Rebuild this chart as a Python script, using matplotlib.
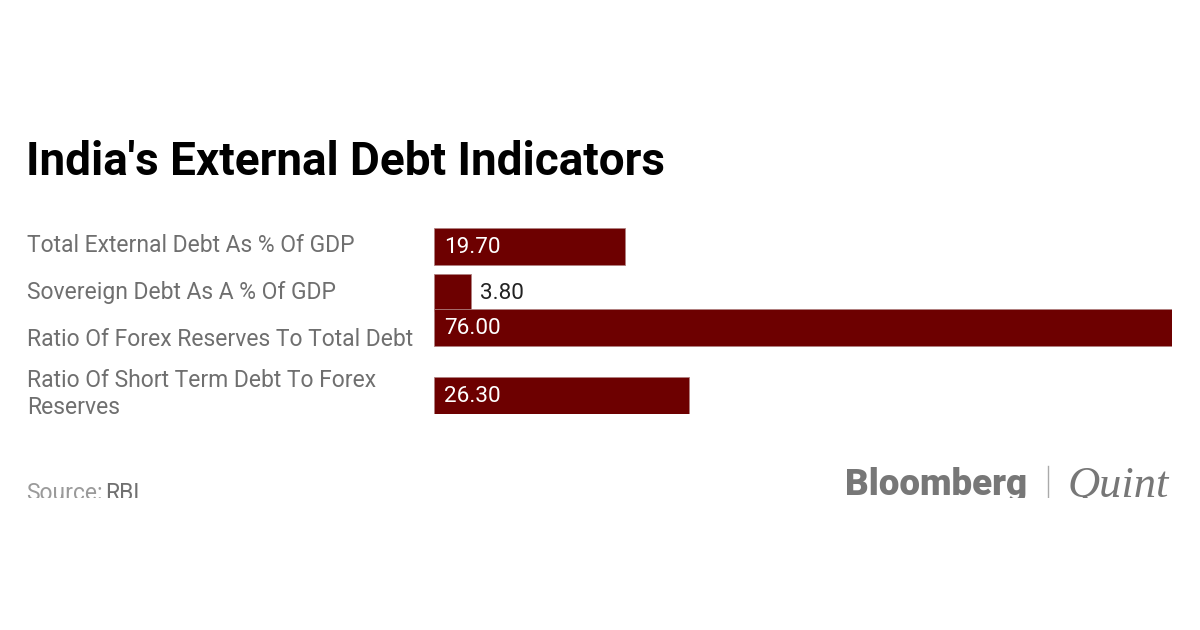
import matplotlib
matplotlib.use('Agg')
import matplotlib.pyplot as plt
from matplotlib.patches import Rectangle

categories = ['Total External Debt As % Of GDP',
              'Sovereign Debt As A % Of GDP',
              'Ratio Of Forex Reserves To Total Debt',
              'Ratio Of Short Term Debt To Forex\nReserves']
values = [19.70, 3.80, 76.00, 26.30]
value_labels = ['19.70', '3.80', '76.00', '26.30']

# layout: bar slots (in bar heights), label rows in pixels
slots = [0, 1.24, 2.19, 4.04]
label_rows = [246, 293, 339, 394]

W, H = 1200, 630
bar_color = '#6d0000'
label_color = '#6f6f6f'

plt.rcParams['font.family'] = ['Roboto', 'DejaVu Sans']

fig = plt.figure(figsize=(12, 6.3), dpi=100, facecolor='white')


def fx(x):
    return x / W


def fy(y):
    return 1 - y / H


ax = fig.add_axes([fx(434), fy(414), fx(1172) - fx(434), fy(228) - fy(414)])
ax.barh(slots, values, height=1, color=bar_color, edgecolor='#b08080', linewidth=0.6)
ax.set_xlim(0, 76)
ax.set_ylim(4.54, -0.5)
ax.axis('off')

for s, v, lab in zip(slots, values, value_labels):
    if v > 8:
        ax.annotate(lab, (0, s), xytext=(10, -1), textcoords='offset pixels',
                    color='white', fontsize=16.2, va='center', ha='left')
    else:
        ax.annotate(lab, (v, s), xytext=(9, -1), textcoords='offset pixels',
                    color='#222222', fontsize=16.2, va='center', ha='left')

fig.text(fx(26), fy(162), "India's External Debt Indicators", fontsize=33,
         fontweight='bold', color='black', va='center', ha='left')

for cat, row in zip(categories, label_rows):
    fig.text(fx(27), fy(row), cat, fontsize=16.5, color=label_color,
             va='center', ha='left', linespacing=1.2)

fig.text(fx(26), fy(500), 'Source:', fontsize=16.5, color='#9a9a9a',
         va='baseline', ha='left')
fig.text(fx(105), fy(500), 'RBI', fontsize=16.5, color='#707070',
         va='baseline', ha='left')

fig.text(fx(845), fy(495), 'Bloomberg', fontsize=26.5, fontweight='black',
         color='#777777', va='baseline', ha='left')
fig.add_artist(plt.Line2D([fx(1048), fx(1048)], [fy(497), fy(466)],
                          color='#aaaaaa', linewidth=1))
fig.text(fx(1068), fy(497), 'Quint', fontsize=32, style='italic',
         family='Liberation Serif', color='#777777', va='baseline', ha='left')

# the reference image is cut off below this line
fig.patches.append(Rectangle((0, 0), 1, fy(498), transform=fig.transFigure,
                             facecolor='white', edgecolor='none', zorder=10))

fig.savefig('out.png', dpi=100, facecolor='white')
